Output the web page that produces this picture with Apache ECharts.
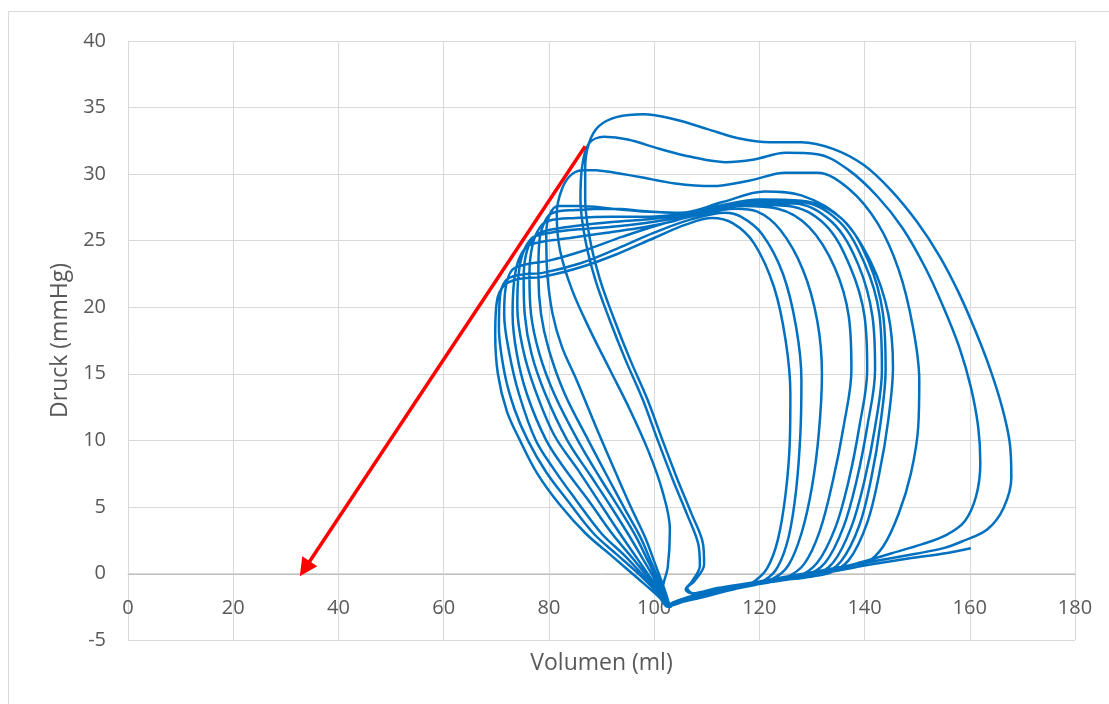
<!DOCTYPE html>
<html>
<head>
<meta charset="utf-8">
<script src="https://cdn.jsdelivr.net/npm/echarts@6/dist/echarts.min.js"></script>
<style>
  html, body { margin: 0; padding: 0; background: #ffffff; }
  #chart { width: 1109px; height: 704px; }
</style>
</head>
<body>
<div id="chart"></div>
<script>
// Pressure-volume trace, one cycle per array: filling along the bottom,
// contraction up the right side, ejection along the top, relaxation down the left.
// Each point is [volume (ml), pressure (mmHg)].
const cycle1 = [
  [103,-2.3],[108,-1.9],[113,-1.4],[116.5,-1.0],[119,-0.6],
  [121.5,0.4],[123.5,2.5],[125,6],[125.8,10],[125.9,13.5],[125,17.5],[122.8,21.5],[119,24.8],[115,26.3],
  [111,26.7],[106,26.2],[100,25.2],[93,24],[86,23],[79,22.3],[74,22.1],[71.4,21.6],[70.1,20.4],
  [69.8,18],[70.3,15],[72,12.2],[74.5,10],[77.8,7.5],[82,5.2],[87,3],[92,1.3],[97,-0.4],[101,-1.8],[102.6,-2.5]
];
const cycle2 = [
  [103.5,-2.4],[108,-1.8],[113,-1.3],[117.5,-0.9],[121,-0.5],
  [123.5,0.5],[125.6,2.8],[127,6.3],[127.8,10.5],[128,14.5],[127,18.5],[124.5,22.5],[120.5,25.5],[116.5,26.8],
  [113.5,27.1],[107,26.6],[100,25.6],[93,24.4],[86,23.3],[79,22.6],[74,22.4],[71.8,22],[70.7,20.8],
  [70.5,18.5],[71.6,15],[73.5,12.3],[76,10],[79.5,7.6],[83.5,5.5],[88.5,3],[93,1.4],[97.5,-0.2],[101.2,-1.7],[102.7,-2.4]
];
const cycle3 = [
  [103.5,-2.3],[108,-1.7],[113,-1.2],[118,-0.8],[122.5,-0.4],
  [125.5,0.6],[128,3],[130,6.5],[131.3,10.5],[131.9,15],[131,19],[128.3,22.8],[124,25.8],[119.5,27.2],
  [115.5,27.4],[108,26.9],[101,26.2],[94,25.3],[87,24.3],[80,23.5],[75.5,23.2],[73,22.8],[71.8,21.5],
  [71.5,19.5],[72.5,16.5],[74.3,13.5],[77.5,10],[81,7.8],[85,5.6],[90,3],[94.5,1.3],[98.5,-0.4],[101.5,-1.7],[102.8,-2.4]
];
const cycle4 = [
  [103.5,-2.2],[109,-1.6],[115,-1.1],[120,-0.7],[125,-0.3],
  [128.5,0.7],[131.5,3.2],[134,7],[136,11],[137.5,15.3],[137,19.3],[134.3,23],[129.5,26],[123.5,27.4],
  [117,27.6],[110,27.2],[104,26.5],[98,26],[91,25.6],[84,25.2],[78.5,24.9],[76,24.6],[74.3,23.6],[73.4,22],
  [73.1,19.5],[73.9,16.5],[75.8,13.5],[79.5,10],[83.5,7.6],[87.5,5.5],[92,3],[96,1.1],[99.5,-0.6],[102,-1.8],[102.9,-2.4]
];
const cycle5 = [
  [103.5,-2.3],[109,-1.7],[115,-1.2],[121,-0.7],[127,-0.3],
  [131,0.8],[134.5,3.5],[137,7],[139,11],[140.5,15.3],[140,19.3],[137.3,23],[132.5,26.2],[125.5,27.6],
  [118,27.7],[110,27.3],[104,26.7],[98,26.3],[91,26],[84,25.8],[79,25.5],[76.8,25.2],[75,24],[74.2,22.3],
  [74,20],[75,17],[77.2,14],[81,10.4],[85.5,7.8],[89.5,5.4],[93.5,3],[97,1],[100,-0.7],[102.2,-1.9],[102.9,-2.5]
];
const cycle6 = [
  [103.5,-2.2],[110,-1.5],[116,-1],[122,-0.6],[128.5,-0.2],
  [132.5,0.8],[136,3.5],[138.5,7],[140.5,11],[142,15.3],[141.5,19.3],[138.8,23.2],[133.8,26.4],[126.5,27.8],
  [119,27.8],[111,27.4],[105,26.9],[99,26.6],[92,26.4],[85,26.1],[80,25.8],[77.5,25.4],[75.8,24.2],[75.2,22.2],
  [75.4,19.5],[76.7,16.5],[79.3,13.5],[83.5,10],[88,7.3],[91.5,5.2],[95,3],[98,1],[100.5,-0.7],[102.3,-1.9],[103,-2.4]
];
const cycle7 = [
  [103.5,-2.2],[110,-1.5],[117,-1],[124,-0.5],[130,-0.2],
  [134,0.8],[137.5,3.5],[140,7],[142,11],[143.3,15.3],[142.8,19.5],[140,23.3],[135,26.5],[127.5,27.9],
  [119.5,27.9],[112,27.5],[105,27],[99,26.8],[92,26.8],[85,26.7],[80,26.5],[78.3,26],[76.9,24.7],[76.3,22.5],
  [76.6,19.5],[78.2,16.5],[81,13.5],[85.5,10],[90,7],[93.5,4.8],[96.5,2.8],[99,0.8],[101,-0.8],[102.5,-2],[103.1,-2.5]
];
const cycle8 = [
  [103.5,-2.2],[110,-1.4],[118,-0.8],[125,-0.4],[131.5,-0.1],
  [135.5,0.9],[139,3.6],[141.3,7.2],[143,11.2],[144,15.3],[143.5,19.5],[140.8,23.4],[135.8,26.6],[128,28],
  [120,28.1],[112,27.6],[105,27.1],[99,27.2],[92,27.4],[85,27.3],[80.8,27.1],[79.3,26.5],[78.2,25],[78,22.5],
  [78.5,19.5],[80,16.8],[83,13.5],[87.5,10],[91.5,7],[94.5,4.8],[97.3,2.8],[99.5,0.8],[101.3,-0.9],[102.6,-2],[103.2,-2.5]
];
const cycle9 = [
  [103.5,-2.2],[110,-1.4],[118,-0.8],[126,-0.3],[133,0],
  [137,1],[140.5,3.8],[142.8,7.5],[144.5,11.5],[145.4,15.5],[144.5,19.5],[141.3,23.3],[135.8,26.6],[128,28.4],
  [121,28.7],[113,27.9],[105,27.1],[98,27.2],[92,27.4],[86,27.6],[81.8,27.6],[80.2,27],[79.5,25.5],[79.7,22.5],
  [80.7,19.5],[82.5,17],[85.3,14.5],[89.5,10.5],[93,7.3],[95.8,4.8],[98.3,2.7],[100.3,0.6],[101.8,-1],[102.7,-2.1],[102.9,-2.5]
];
const cycle10 = [
  [103.5,-2.3],[110,-1.6],[120,-0.8],[130,-0.1],[136,0.3],
  [140,0.7],[143.5,2],[146.5,4.5],[148.8,7.5],[150.2,11],[150.4,14.5],[149.2,18.5],[146.5,22.8],[142.5,26.3],[137,28.9],
  [131,30.1],[125,30.1],[118,29.5],[111,29.1],[104,29.3],[97,29.8],[91,30.2],[87,30.3],[84.4,30],[82.5,28.9],[81.5,27],
  [82.1,24.3],[84.4,21.3],[87.8,18.3],[91.6,15.3],[95.4,12.3],[98.8,9.3],[101.5,6.3],[103,3.3],[102.6,0.5],[101.6,-1.3],[102.3,-2.4]
];
const cycle11 = [
  [104,-2.2],[110,-1.5],[120,-0.7],[130,0],[138,0.7],[145,1.5],[151,2.2],[155.6,2.9],[159,3.9],
  [161.2,5.8],[162,8.3],[161.6,11],[160.2,14],[158,17],[155,20],[151.5,23],[147.3,25.9],[142.5,28.3],[137,30.3],
  [131,31.5],[125,31.6],[119,31.1],[113.5,30.9],[107,31.3],[101,31.9],[95,32.6],[90.5,32.8],[87.6,32.3],
  [86.3,30.5],[86,28.1],[86.9,25.1],[88.8,22.1],[91.5,19.1],[94.5,16.1],[97.8,13.1],[100.6,10.1],[103.5,7.1],[106.3,4.4],[108.4,2.2],[108.7,0.6],[107.2,-0.6],[106,-1.2]
];
const cycle12 = [
  [107.3,-1.5],[112,-1.1],[120,-0.6],[130,0.1],[140,0.8],[150,1.5],[155,1.9],[158.5,2.4],[163.3,3.3],
  [166.4,4.9],[167.9,7.2],[167.6,9.8],[166.2,12.4],[164,15.2],[161.3,18],[158,21],[154.3,23.8],[150,26.4],[145,28.8],[139.8,30.7],[134,31.9],
  [128,32.4],[122,32.4],[116,32.7],[110,33.4],[104,34.1],[98,34.5],[93,34.3],[89.5,33.6],[87.6,32.3],
  [86.9,30.5],[86.9,28.1],[87.8,25.1],[89.7,22.1],[92.4,19.1],[95.4,16.1],[98.7,13.1],[101.5,10.1],[104.4,7.1],[107.2,4.4],[109.3,2.2],[109.5,0.7],[107.6,-0.6],[106.3,-1.1]
];
const fillingTail = [
  [107.5,-1.5],[112,-1.3],[120,-0.8],[130,-0.1],[140,0.6],[148,1.1],[155,1.5],[160.2,1.9]
];

// End-systolic pressure-volume line: start point and arrow tip [volume, pressure]
const espvrLine = [[86.9, 32.1], [33.6, 0.35]];

const pvTrace = [].concat(
  cycle1, cycle2, cycle3, cycle4, cycle5, cycle6,
  cycle7, cycle8, cycle9, cycle10, cycle11, cycle12, fillingTail
);

const chart = echarts.init(document.getElementById('chart'), null, { renderer: 'canvas' });

const labelColor = '#595959';
const gridColor = '#d9d9d9';

chart.setOption({
  animation: false,
  textStyle: { fontFamily: 'Open Sans, sans-serif' },
  graphic: [{
    type: 'rect',
    silent: true,
    z: -10,
    shape: { x: 8.5, y: 11.5, width: 1400, height: 1000 },
    style: { fill: 'none', stroke: gridColor, lineWidth: 1 }
  }],
  grid: {
    left: 128, right: 34, top: 41, bottom: 64,
    containLabel: false,
    outerBoundsMode: 'none'
  },
  xAxis: {
    type: 'value',
    position: 'bottom',
    offset: -66,              // horizontal axis sits on the zero pressure line
    min: 0,
    max: 180,
    interval: 20,
    name: 'Volumen (ml)',
    nameLocation: 'middle',
    nameGap: 78,
    nameTextStyle: { fontSize: 23, color: labelColor },
    axisLine: { onZero: false, lineStyle: { color: '#bfbfbf', width: 1 } },
    axisTick: { show: false },
    axisLabel: { fontSize: 20, color: labelColor, margin: 24 },
    splitLine: { lineStyle: { color: gridColor, width: 1 } }
  },
  yAxis: {
    type: 'value',
    min: -5,
    max: 40,
    interval: 5,
    name: 'Druck (mmHg)',
    nameLocation: 'middle',
    nameGap: 56,
    nameRotate: 90,
    nameTextStyle: { fontSize: 23, color: labelColor },
    axisLine: { show: false },
    axisTick: { show: false },
    axisLabel: { fontSize: 20, color: labelColor, margin: 22 },
    splitLine: { lineStyle: { color: gridColor, width: 1 } }
  },
  series: [{
    name: 'PV-Schleife',
    type: 'line',
    data: pvTrace,
    smooth: 0.35,
    showSymbol: false,
    symbol: 'none',
    lineStyle: { color: '#0070C0', width: 2.5 },
    markLine: {
      silent: true,
      animation: false,
      symbol: ['none', 'triangle'],
      symbolSize: 18,
      label: { show: false },
      lineStyle: { color: '#ff0000', width: 3.5, type: 'solid' },
      itemStyle: { color: '#ff0000' },
      data: [[{ coord: espvrLine[0] }, { coord: espvrLine[1] }]]
    }
  }]
});
</script>
</body>
</html>
